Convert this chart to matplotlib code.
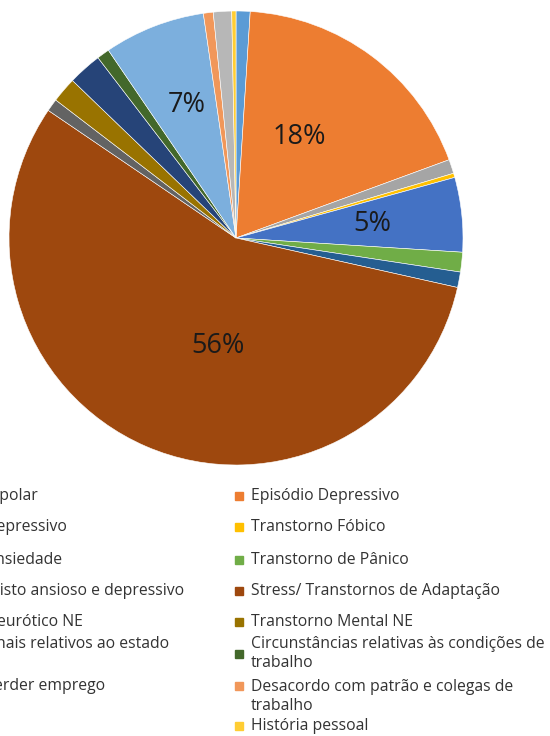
import matplotlib
matplotlib.use("Agg")
import matplotlib.pyplot as plt
from matplotlib.patches import Rectangle

plt.rcParams['font.family'] = ['Open Sans', 'DejaVu Sans']

categories = [
    "Transtorno Bipolar",
    "Episódio Depressivo",
    "Transtorno Depressivo",
    "Transtorno Fóbico",
    "Transtorno Ansiedade",
    "Transtorno de Pânico",
    "Transtorno misto ansioso e depressivo",
    "Stress/ Transtornos de Adaptação",
    "Transtorno Neurótico NE",
    "Transtorno Mental NE",
    "Sintomas e sinais relativos ao estado\nemocional",
    "Circunstâncias relativas às condições de\ntrabalho",
    "Ameaça de perder emprego",
    "Desacordo com patrão e colegas de\ntrabalho",
    "Outros",
    "História pessoal",
]
values = [1.0, 18.4, 1.0, 0.3, 5.3, 1.4, 1.1, 56.0, 0.9, 1.8, 2.4, 0.9, 7.2, 0.7, 1.3, 0.3]
colors = ["#5B9BD5", "#ED7D31", "#A5A5A5", "#FFC000", "#4472C4", "#70AD47",
          "#255E91", "#9E480E", "#636363", "#997300", "#264478", "#43682B",
          "#7CAFDD", "#F1975A", "#B7B7B7", "#FFCD33"]

W, H = 550, 736
fig = plt.figure(figsize=(W / 100, H / 100), dpi=100)

# pie: centre (236, 238) px, radius 227 px
ax = fig.add_axes([9 / W, (H - 465) / H, 454 / W, 454 / H])


def fmt(p):
    return "%.0f%%" % p if p >= 4 else ""


wedges, texts, autotexts = ax.pie(
    values, colors=colors, startangle=90, counterclock=False,
    autopct=fmt, pctdistance=0.55,
    wedgeprops=dict(edgecolor="white", linewidth=0.4),
    textprops=dict(fontsize=19.5, color="#1a1a1a"))
ax.set_xlim(-1, 1)
ax.set_ylim(-1, 1)
ax.set_aspect("equal")

# where Excel put the percentage labels
label_xy = {"18%": (0.28, 0.445), "5%": (0.60, 0.06),
            "56%": (-0.08, -0.475), "7%": (-0.215, 0.585)}
for t in autotexts:
    if t.get_text() in label_xy:
        t.set_position(label_xy[t.get_text()])

# legend, two columns, rows filled left to right (left column is cropped)
row_y = [496, 527, 560, 591, 622, 643, 686, 726]
line_h = 21
col_text_x = [-101, 251]
box = 8
mark_shift = {11: line_h / 2}
for i, (lab, c) in enumerate(zip(categories, colors)):
    col, row = i % 2, i // 2
    y = row_y[row]
    nl = lab.count("\n") + 1
    tx = col_text_x[col]
    fig.text(tx / W, 1 - (y + (nl - 1) * line_h / 2) / H, lab,
             fontsize=11.3, color="#333333", va="center", ha="left",
             linespacing=1.32)
    my = y + mark_shift.get(i, 0)
    fig.add_artist(Rectangle(((tx - 16) / W, 1 - (my + box / 2) / H),
                             box / W, box / H, color=c,
                             transform=fig.transFigure))

fig.savefig("out.png", dpi=100)
